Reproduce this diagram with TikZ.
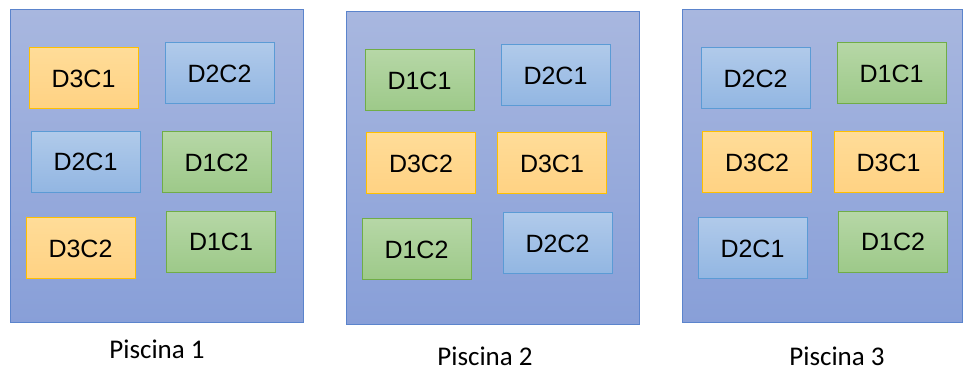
\documentclass[tikz,border=0pt]{standalone}
\usepackage{fontspec}
\setmainfont{Liberation Sans}
\newfontfamily\captionfont{Carlito}
\usetikzlibrary{positioning}
\definecolor{poolline}{HTML}{5B84CC}
\definecolor{pooltop}{HTML}{A8B7DF}
\definecolor{poolbottom}{HTML}{889FD8}
\definecolor{greenline}{HTML}{70AD47}
\definecolor{greentop}{HTML}{B6D7A6}
\definecolor{greenbottom}{HTML}{9DC989}
\definecolor{blueline}{HTML}{5B9BD5}
\definecolor{bluetop}{HTML}{B0CAEA}
\definecolor{bluebottom}{HTML}{92B6E2}
\definecolor{orangeline}{HTML}{FFC000}
\definecolor{orangetop}{HTML}{FFDC98}
\definecolor{orangebottom}{HTML}{FFD283}
\tikzset{
  % vasche
  pool/.style={draw=poolline,line width=1pt,top color=pooltop,bottom color=poolbottom,inner sep=0},
  pool label/.style={font=\captionfont\fontsize{27}{31}\selectfont,inner sep=0,anchor=base},
  % dispositivi
  box/.style={line width=1pt,inner sep=0,minimum width=109,minimum height=61,font=\fontsize{25}{29}\selectfont},
  box D1/.style={box,draw=greenline,top color=greentop,bottom color=greenbottom},
  box D2/.style={box,draw=blueline,top color=bluetop,bottom color=bluebottom},
  box D3/.style={box,draw=orangeline,top color=orangetop,bottom color=orangebottom}
}
\begin{document}
\begin{tikzpicture}[x=1pt,y=-1pt]
    \useasboundingbox (0,0) rectangle (964,371);
    % le tre piscine
    \node[pool,minimum width=293,minimum height=313] (pool1) at (156.5,166.5) {};
    \node[pool,minimum width=293,minimum height=313] (pool2) at (492.5,168.5) {};
    \node[pool,minimum width=280,minimum height=313] (pool3) at (822,166.5) {};
    \node[pool label] (lab1) at (157,359) {Piscina 1};
    \node[pool label] (lab2) at (485,365) {Piscina 2};
    \node[pool label] (lab3) at (837,365) {Piscina 3};
    % Piscina 1
    \foreach \name/\d/\c/\x/\y in {a/3/1/83.5/78.5, b/2/2/219.5/73.5, c/2/1/85.5/162,
        d/1/2/216.5/162.5, e/3/2/80.5/248.5, f/1/1/221/242}{
      \node[box D\d] (p1\name) at (\x,\y) {D\d C\c};
    }
    % Piscina 2
    \foreach \name/\d/\c/\x/\y in {a/1/1/419.5/80.5, b/2/1/555.5/75.5, c/3/2/421/163.5,
        d/3/1/552/163.5, e/1/2/416.5/249.5, f/2/2/557.5/243.5}{
      \node[box D\d] (p2\name) at (\x,\y) {D\d C\c};
    }
    % Piscina 3
    \foreach \name/\d/\c/\x/\y in {a/2/2/755.5/78.5, b/1/1/891.5/73.5, c/3/2/757/162.5,
        d/3/1/888.5/162.5, e/2/1/752.5/248.5, f/1/2/893/242}{
      \node[box D\d] (p3\name) at (\x,\y) {D\d C\c};
    }
\end{tikzpicture}
\end{document}
